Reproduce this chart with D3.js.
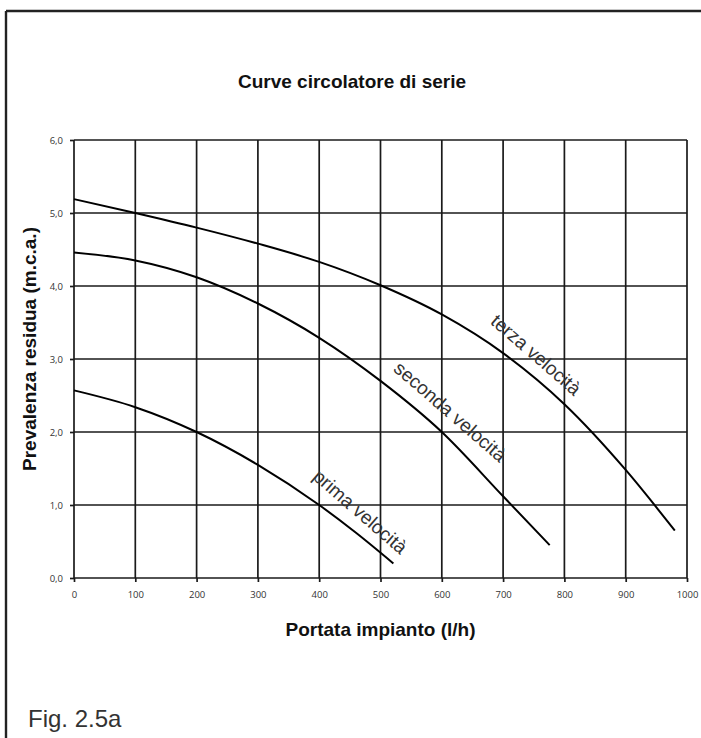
<!DOCTYPE html>
<html><head><meta charset="utf-8">
<script src="https://cdn.jsdelivr.net/npm/d3@7"></script>
<style>body{margin:0;background:#fff}svg{display:block}</style>
</head><body>
<svg id="c" width="701" height="738"></svg>
<script>
const title = "Curve circolatore di serie";
const xTitle = "Portata impianto (l/h)";
const yTitle = "Prevalenza residua (m.c.a.)";
const figLabel = "Fig. 2.5a";
const xTicks = [0,100,200,300,400,500,600,700,800,900,1000];
const yTicks = [0,1,2,3,4,5,6];
const yTickLabels = ["0,0","1,0","2,0","3,0","4,0","5,0","6,0"];

const seriesNames = ["prima velocità","seconda velocità","terza velocità"];
const primaX = [0,100,200,300,400,460,521];
const primaY = [2.57,2.34,2.0,1.55,1.0,0.62,0.20];
const secondaX = [0,100,200,300,400,500,600,700,776];
const secondaY = [4.46,4.35,4.12,3.76,3.29,2.70,2.0,1.12,0.45];
const terzaX = [0,100,200,300,400,500,600,700,800,900,980];
const terzaY = [5.19,5.0,4.8,4.58,4.33,4.01,3.61,3.08,2.38,1.48,0.65];
// label anchor points (data units) for the curve labels
const labelX = [467,614,754];
const labelY = [0.91,2.28,3.06];

const svg = d3.select("#c");
const m = {l:74, r:687, t:140, b:578};
const x = d3.scaleLinear().domain([0,1000]).range([m.l,m.r]);
const y = d3.scaleLinear().domain([0,6]).range([m.b,m.t]);

// page frame
svg.append("line").attr("x1",6).attr("x2",6).attr("y1",11).attr("y2",738).attr("stroke","#222").attr("stroke-width",2.4);
svg.append("line").attr("x1",6).attr("x2",701).attr("y1",11).attr("y2",11).attr("stroke","#222").attr("stroke-width",2.4);

// grid
const g = svg.append("g");
g.selectAll(".gx").data(xTicks).join("line")
  .attr("x1",d=>x(d)).attr("x2",d=>x(d)).attr("y1",y(6)).attr("y2",y(0))
  .attr("stroke","#1a1a1a").attr("stroke-width",1.7);
g.selectAll(".gy").data(yTicks).join("line")
  .attr("x1",x(0)).attr("x2",x(1000)).attr("y1",d=>y(d)).attr("y2",d=>y(d))
  .attr("stroke","#1a1a1a").attr("stroke-width",1.7);

// axes
const xAxis = d3.axisBottom(x).tickValues(xTicks).tickSize(4).tickPadding(9).tickFormat(d3.format("d"));
const yAxis = d3.axisLeft(y).tickValues(yTicks).tickSize(4).tickPadding(7).tickFormat((d,i)=>yTickLabels[i]);
const ax = svg.append("g").attr("transform",`translate(0,${y(0)})`).call(xAxis);
const ay = svg.append("g").attr("transform",`translate(${x(0)},0)`).call(yAxis);
[ax,ay].forEach(a=>{
  a.select(".domain").remove();
  a.selectAll(".tick line").attr("stroke","#1a1a1a").attr("stroke-width",1.7);
  a.selectAll(".tick text").attr("fill","#333").style("font-family","'Open Sans', sans-serif").style("font-size","9.5px");
});

// curves
const line = d3.line().x(d=>x(d[0])).y(d=>y(d[1])).curve(d3.curveMonotoneX);
const series = [d3.zip(primaX,primaY), d3.zip(secondaX,secondaY), d3.zip(terzaX,terzaY)];
svg.selectAll(".curve").data(series).join("path")
  .attr("d",line).attr("fill","none").attr("stroke","#000").attr("stroke-width",2);

// curve labels
svg.selectAll(".lab").data(seriesNames).join("text")
  .attr("transform",(d,i)=>`translate(${x(labelX[i])},${y(labelY[i])}) rotate(41)`)
  .attr("text-anchor","middle").attr("dy","0.35em")
  .attr("fill","#333")
  .style("font-family","'Liberation Sans', Arial, sans-serif").style("font-size","19px")
  .text(d=>d);

// titles
svg.append("text").attr("x",352).attr("y",88).attr("text-anchor","middle")
  .style("font-family","'Liberation Sans', Arial, sans-serif").style("font-size","19px").style("font-weight","bold")
  .attr("fill","#111").text(title);
svg.append("text").attr("x",(m.l+m.r)/2).attr("y",636).attr("text-anchor","middle")
  .style("font-family","'Liberation Sans', Arial, sans-serif").style("font-size","19px").style("font-weight","bold")
  .attr("fill","#111").text(xTitle);
svg.append("text").attr("transform","translate(36,349) rotate(-90)").attr("text-anchor","middle")
  .style("font-family","'Liberation Sans', Arial, sans-serif").style("font-size","19px").style("font-weight","bold")
  .attr("fill","#111").text(yTitle);
svg.append("text").attr("x",28).attr("y",727)
  .style("font-family","'Liberation Sans', Arial, sans-serif").style("font-size","24px")
  .attr("fill","#333").text(figLabel);
</script>
</body></html>
